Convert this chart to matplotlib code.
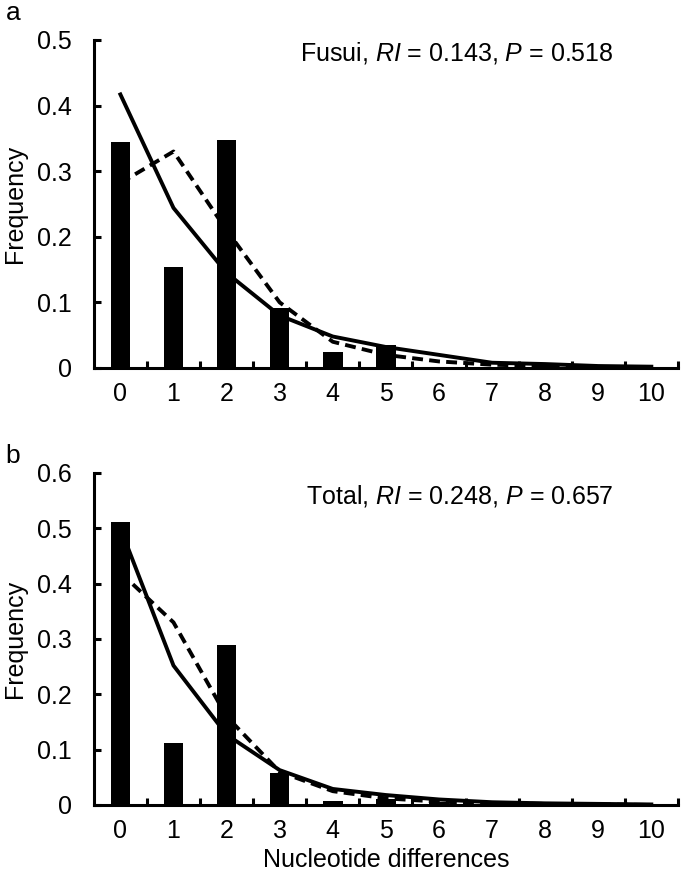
import matplotlib
matplotlib.use("Agg")
import matplotlib.pyplot as plt
import numpy as np

plt.rcParams['font.family'] = ['Liberation Sans', 'DejaVu Sans']
plt.rcParams['mathtext.fontset'] = 'custom'
plt.rcParams['mathtext.it'] = 'Liberation Sans:italic'
plt.rcParams['mathtext.rm'] = 'Liberation Sans'

categories = list(range(11))

# Panel a (Fusui)
fusui_obs = [0.345, 0.154, 0.347, 0.091, 0.024, 0.035, 0.0, 0.0, 0.005, 0.0, 0.0]
fusui_exp_solid = [0.417, 0.244, 0.145, 0.080, 0.048, 0.032, 0.020, 0.008, 0.006, 0.003, 0.002]
fusui_exp_dashed = [0.282, 0.330, 0.210, 0.100, 0.040, 0.020, 0.010, 0.005, 0.003, 0.001, 0.0]

# Panel b (Total)
total_obs = [0.511, 0.112, 0.290, 0.057, 0.007, 0.010, 0.005, 0.0, 0.0, 0.0, 0.0]
total_exp_solid = [0.500, 0.252, 0.127, 0.063, 0.029, 0.018, 0.010, 0.005, 0.003, 0.002, 0.001]
total_exp_dashed = [0.420, 0.330, 0.160, 0.060, 0.025, 0.012, 0.006, 0.003, 0.002, 0.001, 0.0]

yticks_a = [0, 0.1, 0.2, 0.3, 0.4, 0.5]
yticks_b = [0, 0.1, 0.2, 0.3, 0.4, 0.5, 0.6]
ytick_labels_a = ['0', '0.1', '0.2', '0.3', '0.4', '0.5']
ytick_labels_b = ['0', '0.1', '0.2', '0.3', '0.4', '0.5', '0.6']

fig = plt.figure(figsize=(6.85, 8.77), dpi=100)
ax1 = fig.add_axes([0.137, 0.5804, 0.8526, 0.374])
ax2 = fig.add_axes([0.137, 0.0821, 0.8526, 0.3786])

FS = 18

def style(ax, obs, solid, dashed, ymax, yticks, ylabels, text, ty):
    x = np.array(categories)
    ax.bar(x, obs, width=0.37, color='black', zorder=2)
    ax.plot(x, solid, color='black', lw=2.8, solid_joinstyle='miter', zorder=3)
    ax.plot(x, dashed, color='black', lw=2.8, dashes=(2.8, 1.6), zorder=3)
    ax.set_xlim(-0.5, 10.5)
    ax.set_ylim(0, ymax)
    ax.set_yticks(yticks)
    ax.set_yticklabels(ylabels, fontsize=FS)
    ax.set_xticks(x)
    ax.set_xticklabels([str(c) for c in categories], fontsize=FS)
    ax.set_xticks(np.arange(0.5, 11, 1.0), minor=True)
    ax.tick_params(axis='x', which='major', length=0, pad=10)
    ax.tick_params(axis='x', which='minor', direction='in', length=5, width=2.2)
    ax.tick_params(axis='y', which='major', direction='in', length=5, width=2.2, pad=16)
    for s in ['top', 'right']:
        ax.spines[s].set_visible(False)
    for s in ['left', 'bottom']:
        ax.spines[s].set_linewidth(2.2)
    ax.set_ylabel('Frequency', fontsize=FS, labelpad=7)
    ax.text(0.89, ty, text, transform=ax.transAxes, ha='right', va='center', fontsize=FS)

style(ax1, fusui_obs, fusui_exp_solid, fusui_exp_dashed, 0.5, yticks_a, ytick_labels_a,
      r'Fusui, $\mathit{RI}$ = 0.143, $\mathit{P}$ = 0.518', 0.960)
style(ax2, total_obs, total_exp_solid, total_exp_dashed, 0.6, yticks_b, ytick_labels_b,
      r'Total, $\mathit{RI}$ = 0.248, $\mathit{P}$ = 0.657', 0.931)
ax2.set_xlabel('Nucleotide differences', fontsize=FS, labelpad=4)

fig.text(0.008, 0.999, 'a', fontsize=FS + 1, va='top', ha='left')
fig.text(0.008, 0.494, 'b', fontsize=FS + 1, va='top', ha='left')

fig.savefig('out.png', dpi=100)
